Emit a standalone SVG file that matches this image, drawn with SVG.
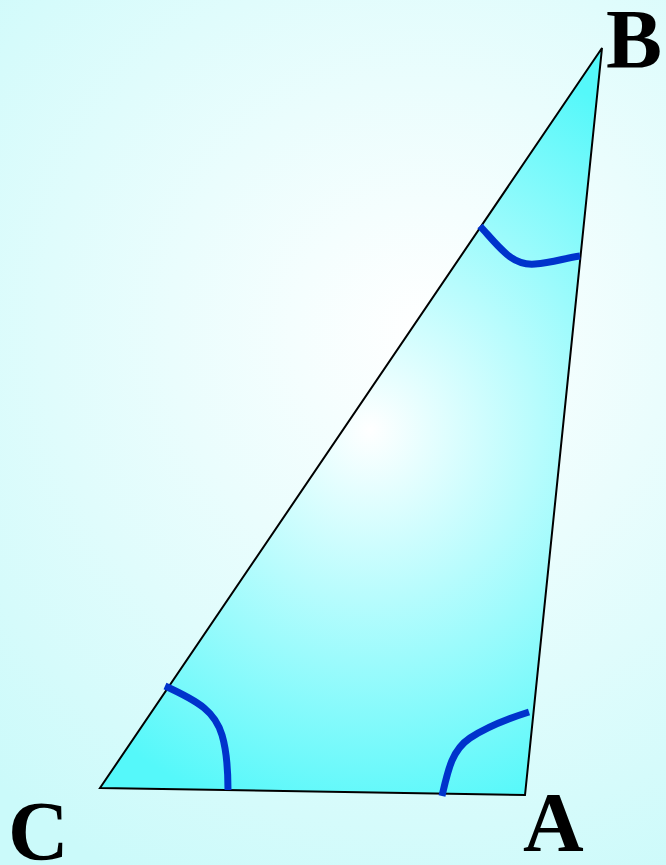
<svg xmlns="http://www.w3.org/2000/svg" width="666" height="865" viewBox="0 0 666 865">
<defs>
<radialGradient id="bg" cx="420" cy="330" r="620" gradientUnits="userSpaceOnUse">
<stop offset="0" stop-color="#ffffff"/>
<stop offset="1" stop-color="#cbfafa"/>
</radialGradient>
<radialGradient id="tri" cx="370" cy="430" r="400" gradientUnits="userSpaceOnUse">
<stop offset="0" stop-color="#ffffff"/>
<stop offset="1" stop-color="#55f8fa"/>
</radialGradient>
<style>
.lbl{font-family:"Liberation Serif","Times New Roman",serif;font-weight:bold;font-size:84px;fill:#000}
.arc{fill:none;stroke:#0033cc;stroke-width:7}
</style>
</defs>
<rect width="666" height="865" fill="url(#bg)"/>
<g id="triangle">
<polygon points="100,788 525,795 602,48" fill="url(#tri)" stroke="#000" stroke-width="2"/>
</g>
<g id="angles">
<path class="arc" d="M480,226 C500,248 512,266 535,264 C552,263 565,258 580,256"/>
<path class="arc" d="M165,686 C200,702 215,712 222,735 C227,752 228,775 228,790"/>
<path class="arc" d="M442,796 C448,770 452,750 470,738 C490,725 510,718 529,712"/>
</g>
<g id="labels">
<text class="lbl" x="606" y="68">B</text>
<text class="lbl" x="8" y="860">C</text>
<text class="lbl" x="523" y="851">A</text>
</g>
</svg>
